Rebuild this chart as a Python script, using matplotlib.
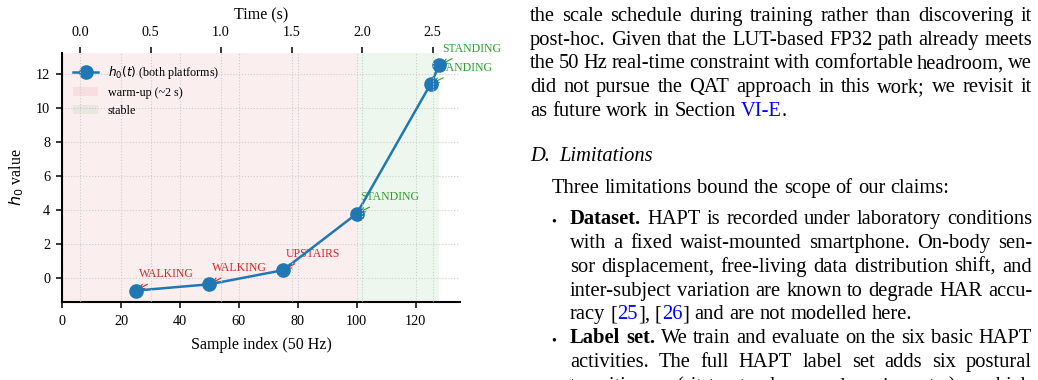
import re
import matplotlib
matplotlib.use("Agg")
import matplotlib.pyplot as plt

# ---- chart data ----
sample_idx = [25, 50, 75, 100, 125, 128]
h0_values = [-0.72, -0.35, 0.48, 3.80, 11.40, 12.52]
activity = ["WALKING", "WALKING", "UPSTAIRS", "STANDING", "STANDING", "STANDING"]
warmup_span = (0, 100)
stable_span = (100, 128)
x_ticks = [0, 20, 40, 60, 80, 100, 120]
y_ticks = [0, 2, 4, 6, 8, 10, 12]
time_ticks = [0.0, 0.5, 1.0, 1.5, 2.0, 2.5]

# ---- page text (right column) ----
para_lines = [
    "the scale schedule during training rather than discovering it",
    "post-hoc. Given that the LUT-based FP32 path already meets",
    "the 50 Hz real-time constraint with comfortable headroom, we",
    "did not pursue the QAT approach in this work; we revisit it",
    "as future work in Section {l:VI-E}.",
]
heading = ["{i:D.}", "{i:Limitations}"]
intro_line = "Three limitations bound the scope of our claims:"
bullet1_lines = [
    "{b:Dataset.} HAPT is recorded under laboratory conditions",
    "with a fixed waist-mounted smartphone. On-body sen-",
    "sor displacement, free-living data distribution shift, and",
    "inter-subject variation are known to degrade HAR accu-",
    "racy [{l:25}], [{l:26}] and are not modelled here.",
]
bullet2_lines = [
    "{b:Label set.} We train and evaluate on the six basic HAPT",
    "activities. The full HAPT label set adds six postural",
    "transitions (sit-to-stand, stand-to-sit, etc.), which",
]

plt.rcParams["font.family"] = ["Liberation Serif", "DejaVu Serif"]

W, H = 1038, 380
fig = plt.figure(figsize=(W / 100, H / 100), dpi=100)

RED = "#d62728"
GREEN = "#2ca02c"
BLUE = "#1f77b4"

# ---- main axes ----
ax = fig.add_axes([62 / W, 1 - 302 / H, (460 - 62) / W, (302 - 53) / H])
ax.plot(sample_idx, h0_values, "-o", color=BLUE, lw=1.8, ms=9.5, zorder=4,
        label=r"$h_0(t)$ (both platforms)")
ax.axvspan(*warmup_span, color="tab:red", alpha=0.08, lw=0, label="warm-up (~2 s)")
ax.axvspan(*stable_span, color="tab:green", alpha=0.08, lw=0, label="stable")

for x, y, lab in zip(sample_idx, h0_values, activity):
    c = GREEN if x >= stable_span[0] else RED
    ax.annotate(lab, xy=(x, y), xytext=(2.2, 9.7), textcoords="offset points",
                fontsize=8.5, color=c, va="baseline", ha="left", zorder=3,
                arrowprops=dict(arrowstyle="->", color=c, lw=0.8))

ax.set_xlim(0, 135)
ax.set_ylim(-1.39, 13.23)
ax.set_xticks(x_ticks)
ax.set_yticks(y_ticks)
ax.set_xlabel("Sample index (50 Hz)", fontsize=11.5, labelpad=6)
ax.set_ylabel(r"$h_0$ value", fontsize=11.5, labelpad=7)
ax.tick_params(labelsize=10.3, length=4, width=1.1)
ax.tick_params(axis="x", pad=5.5)
ax.tick_params(axis="y", pad=4.5)
ax.grid(True, ls=":", color="#cccccc", lw=0.8)
for s in ["top", "right"]:
    ax.spines[s].set_visible(False)
for s in ["left", "bottom"]:
    ax.spines[s].set_linewidth(1.5)

ax.legend(loc="upper left", frameon=False, fontsize=8.7, handlelength=2.1)

# ---- time axis on top ----
ax2 = ax.twiny()
ax2.set_xlim(-0.128, 2.695)
ax2.set_xticks(time_ticks)
ax2.set_xlabel("Time (s)", fontsize=11.5, labelpad=5)
ax2.tick_params(labelsize=10.3, length=4, width=1.1, pad=6)
ax2.grid(True, axis="x", ls=":", color="#cccccc", lw=0.8)
for s in ax2.spines.values():
    s.set_visible(False)

# ---- right column text, justified word by word ----
STYLE = {
    "n": dict(color="black"),
    "b": dict(color="black", weight="bold"),
    "l": dict(color="#0000ff"),
    "i": dict(color="black", style="italic"),
}
BODY = 14.8
renderer = fig.canvas.get_renderer()


def parse_line(s):
    chunks = []
    pos = 0
    for m in re.finditer(r"\{(\w):([^}]*)\}", s):
        if m.start() > pos:
            chunks.append((s[pos:m.start()], "n"))
        chunks.append((m.group(2), m.group(1)))
        pos = m.end()
    if pos < len(s):
        chunks.append((s[pos:], "n"))
    words = [[]]
    for text, st in chunks:
        for i, p in enumerate(text.split(" ")):
            if i > 0:
                words.append([])
            if p:
                words[-1].append((p, st))
    return [w for w in words if w]


def draw_line(s, x0, x1, y_base, justify=True, size=BODY, gap=None):
    words = parse_line(s)
    items = []
    for w in words:
        items.append([fig.text(0, 1 - y_base / H, txt, fontsize=size, va="baseline",
                               ha="left", **STYLE[st]) for txt, st in w])
    widths = [[p.get_window_extent(renderer).width for p in pcs] for pcs in items]
    word_w = [sum(ws) for ws in widths]
    if gap is None:
        if justify and len(items) > 1:
            gap = (x1 - x0 - sum(word_w)) / (len(items) - 1)
        else:
            gap = 0.25 * size * 100 / 72
    x = x0
    for pcs, ws in zip(items, widths):
        for p, w in zip(pcs, ws):
            p.set_x(x / W)
            x += w
        x += gap


COL_L, COL_R = 530, 1032
LINE = 23.87
for i, line in enumerate(para_lines):
    draw_line(line, COL_L, COL_R, 20.7 + i * LINE, justify=i < len(para_lines) - 1)

draw_line(" ".join(heading), COL_L, COL_R, 161, justify=False, gap=9)
draw_line(intro_line, 552, COL_R, 193.3, justify=False)

BUL_X, TXT_X = 551, 570
y = 224
for block in [bullet1_lines, bullet2_lines]:
    fig.text(BUL_X / W, 1 - (y + 1.5) / H, "\u2022", fontsize=10, va="baseline", color="black")
    for j, line in enumerate(block):
        last = j == len(block) - 1 and block is bullet1_lines
        draw_line(line, TXT_X, COL_R, y, justify=not last)
        y += LINE

fig.savefig("out.png", dpi=100)
